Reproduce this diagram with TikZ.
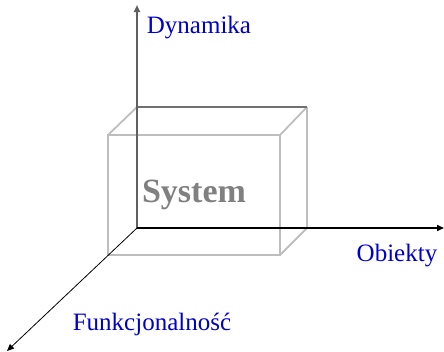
\documentclass[tikz,border=0pt]{standalone}
\usepackage{fontspec}
\setmainfont{Liberation Serif}
\usetikzlibrary{arrows.meta}
\definecolor{axisgray}{RGB}{96,96,96}
\definecolor{edgegray}{RGB}{190,190,190}
\definecolor{backgray}{RGB}{112,112,112}
\definecolor{lblblue}{RGB}{0,0,205}
\definecolor{sysgray}{RGB}{128,128,128}

\begin{document}
\begin{tikzpicture}[x=1pt, y=-1pt,
    axis/.style={-{Triangle[length=7pt, width=6pt]}, line width=#1},
    edge/.style={draw=edgegray, line width=1.8pt},
    lbl/.style={font=\fontsize{25}{30}\selectfont, text=lblblue, inner sep=0pt},
    every node/.style={inner sep=0pt}]
    \useasboundingbox (0,0) rectangle (444,351);

    % ── corners of the box ───────────────────────────────────
    \coordinate (o) at (137,228);
    \coordinate (bt) at (137,107);
    \coordinate (br) at (307,107);
    \coordinate (bb) at (307,228);
    \coordinate (fa) at (108,135);
    \coordinate (fb) at (280,135);
    \coordinate (fc) at (280,255);
    \coordinate (fd) at (108,255);

    % ── box ──────────────────────────────────────────────────
    \draw[edge] (fa) -- (fb) -- (fc) -- (fd) -- cycle;
    \draw[edge] (fa) -- (bt);
    \draw[edge] (fb) -- (br);
    \draw[edge] (fc) -- (bb);
    \draw[edge] (br) -- (bb);
    \draw[draw=backgray, line width=1.8pt] (bt) -- (br);
    \node[font=\fontsize{34}{40}\selectfont\bfseries, text=sysgray] (sys) at (194,195) {System};

    % ── axes ─────────────────────────────────────────────────
    \coordinate (ytip) at (137,5);
    \coordinate (xtip) at (444,228);
    \coordinate (ztip) at (7,351);
    \draw[axis=1.8pt, axisgray] (o) -- (ytip);
    \draw[axis=1.5pt, black] (o) -- (xtip);
    \draw[axis=0.8pt, black] (o) -- (ztip);

    % ── labels ───────────────────────────────────────────────
    \node[lbl] (dyn) at (199,28) {Dynamika};
    \node[lbl] (obj) at (397,256) {Obiekty};
    \node[lbl] (fun) at (152,324) {Funkcjonalność};
\end{tikzpicture}
\end{document}
